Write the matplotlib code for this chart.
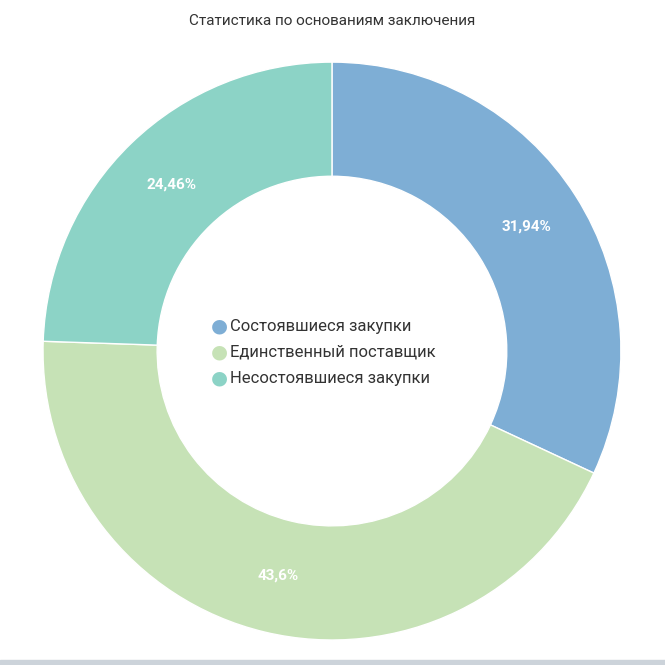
import matplotlib.pyplot as plt
from matplotlib.patches import Rectangle

labels = ["Состоявшиеся закупки", "Единственный поставщик", "Несостоявшиеся закупки"]
values = [31.94, 43.6, 24.46]
value_text = ["31,94%", "43,6%", "24,46%"]
colors = ["#7eaed5", "#c6e2b6", "#8cd3c6"]

plt.rcParams["font.family"] = ["Roboto", "DejaVu Sans"]

fig = plt.figure(figsize=(6.65, 6.65), dpi=100)
ax = fig.add_axes([0.0647, 0.0376, 0.869, 0.869])
wedges, _ = ax.pie(
    values,
    colors=colors,
    startangle=90,
    counterclock=False,
    radius=1.0,
    wedgeprops=dict(width=0.395, edgecolor="white", linewidth=1),
)
for w, t in zip(wedges, value_text):
    import numpy as np
    ang = np.deg2rad((w.theta1 + w.theta2) / 2)
    r = 0.80
    ax.text(r * np.cos(ang), r * np.sin(ang), t, ha="center", va="center",
            color="white", fontsize=11, fontweight="bold")
ax.set_xlim(-1, 1)
ax.set_ylim(-1, 1)
ax.set_aspect("equal")

fig.text(0.5, 0.969, "Статистика по основаниям заключения", ha="center", va="center",
         fontsize=11, color="#333333")

for i, (lab, c) in enumerate(zip(labels, colors)):
    y = 1 - (326 + 26 * i) / 665
    fig.text(219 / 665, y, "●", ha="center", va="center", fontsize=14, color=c)
    fig.text(230 / 665, y, lab, ha="left", va="center", fontsize=12, color="#333333")

fig.patches.append(Rectangle((0, 0), 1, 5 / 665, transform=fig.transFigure,
                             color="#ccd3da", zorder=0))
fig.savefig("out.png", dpi=100)
